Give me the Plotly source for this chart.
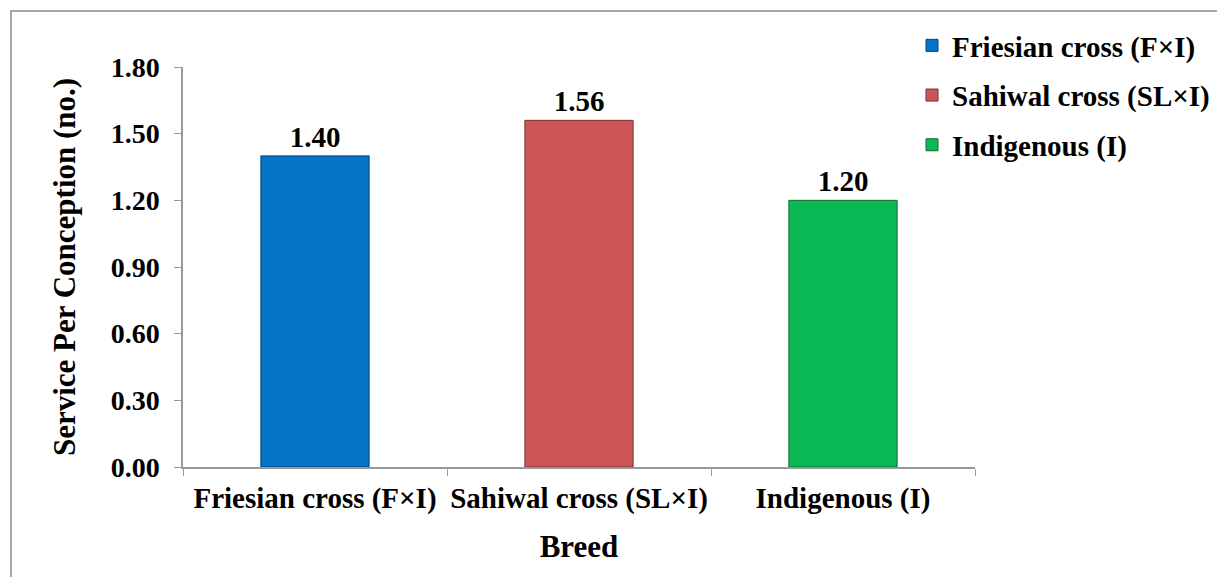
import plotly.graph_objects as go

categories = ["Friesian cross (F×I)", "Sahiwal cross (SL×I)", "Indigenous (I)"]
values = [1.40, 1.56, 1.20]
colors = ["#0573C8", "#CC5656", "#0AB953"]
edge_colors = ["#0A3F6E", "#7A3030", "#0B6B33"]
y_ticks = [0.0, 0.3, 0.6, 0.9, 1.2, 1.5, 1.8]

FONT = "Liberation Serif"
OFF = 8  # browser body margin offset

W, H = 1225, 577
L, T = 183 - OFF, 67 - OFF
R = W - (975 - OFF)
B = H - (467 - OFF)
pw, ph = W - L - R, H - T - B

def px_x(x):  # window pixel -> paper x
    return (x - OFF - L) / pw

def px_y(y):  # window pixel -> paper y
    return (H - B - (y - OFF)) / ph

fig = go.Figure()
for i, (cat, val) in enumerate(zip(categories, values)):
    fig.add_trace(go.Bar(
        x=[cat], y=[val], name=cat,
        legendgroup=f"g{i}",
        marker=dict(color=colors[i], line=dict(color=edge_colors[i], width=1)),
        width=0.41,
        text=[f"{val:.2f}"], textposition="outside",
        textfont=dict(family=FONT, size=29, color="black", weight="bold"),
        cliponaxis=False,
    ))

fig.update_layout(
    width=W, height=H,
    margin=dict(l=L, r=R, t=T, b=B, autoexpand=False),
    paper_bgcolor="white", plot_bgcolor="white",
    barmode="overlay",
    font=dict(family=FONT, color="black"),
    showlegend=True,
    legend=dict(
        x=px_x(912), y=px_y(20),
        xanchor="left", yanchor="top",
        font=dict(family=FONT, size=29, color="black", weight="bold"),
        traceorder="grouped", tracegroupgap=9,
        bgcolor="rgba(0,0,0,0)", itemwidth=30,
    ),
    xaxis=dict(
        type="category",
        automargin=False, tickangle=0,
        showline=True, linecolor="#999999", linewidth=1.5,
        ticks="outside", tickson="boundaries", ticklen=7, tickcolor="#999999",
        tickfont=dict(family=FONT, size=29, color="black", weight="bold"),
        ticklabelstandoff=4,
        title=dict(text="Breed", font=dict(family=FONT, size=31, color="black", weight="bold"), standoff=22),
        showgrid=False,
    ),
    yaxis=dict(
        range=[0, 1.8],
        automargin=False,
        tickvals=y_ticks, tickformat=".2f",
        showline=True, linecolor="#999999", linewidth=1.5,
        ticks="outside", ticklen=7, tickcolor="#999999",
        tickfont=dict(family=FONT, size=28, color="black", weight="bold"),
        ticklabelstandoff=9,
        title=dict(text="Service Per Conception (no.)", font=dict(family=FONT, size=31, color="black", weight="bold"), standoff=26),
        showgrid=False, zeroline=False,
    ),
)

# outer chart border
fig.add_shape(
    type="rect", xref="paper", yref="paper",
    x0=px_x(11), x1=px_x(1223),
    y0=px_y(590), y1=px_y(11),
    line=dict(color="#8c8c8c", width=1.5), fillcolor="rgba(0,0,0,0)", layer="below",
)

fig.write_html("out.html")
